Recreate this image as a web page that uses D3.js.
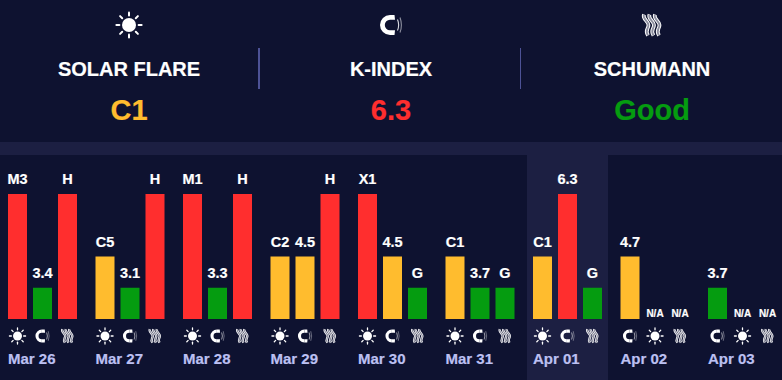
<!DOCTYPE html>
<html><head><meta charset="utf-8">
<script src="https://cdn.jsdelivr.net/npm/d3@7"></script>
<style>
html,body{margin:0;padding:0;background:#0e1230;overflow:hidden}
text{font-family:"Liberation Sans",Arial,sans-serif;font-weight:bold;stroke:currentColor;stroke-width:.2px}
</style></head><body>
<svg id="c" width="782" height="380"></svg>
<script>
const days=["Mar 26","Mar 27","Mar 28","Mar 29","Mar 30","Mar 31","Apr 01","Apr 02","Apr 03"];
const slotTypes=[
 ["sun","mag","wav"],["sun","mag","wav"],["sun","mag","wav"],["sun","mag","wav"],["sun","mag","wav"],["sun","mag","wav"],["sun","mag","wav"],
 ["mag","sun","wav"],["mag","sun","wav"]];
const slotLabels=[
 ["M3","3.4","H"],["C5","3.1","H"],["M1","3.3","H"],["C2","4.5","H"],["X1","4.5","G"],["C1","3.7","G"],["C1","6.3","G"],
 ["4.7","N/A","N/A"],["3.7","N/A","N/A"]];
const slotLevels=[
 [4,1,4],[2,1,4],[4,1,4],[2,2,4],[4,2,1],[2,1,1],[2,4,1],
 [2,0,0],[1,0,0]];
const headerTitles=["SOLAR FLARE","K-INDEX","SCHUMANN"];
const headerValues=["C1","6.3","Good"];
const headerLevels=[2,4,1];
const headerIcons=["sun","mag","wav"];
const highlightDay="Apr 01";
const levelColors={1:"#059c10",2:"#ffbc2e",4:"#ff2e2e"};

const svg=d3.select("#c");
const BG="#0e1230",BAND="#1c1f42";
svg.append("rect").attr("width",782).attr("height",380).attr("fill",BG);
svg.append("rect").attr("x",0).attr("y",142).attr("width",782).attr("height",13).attr("fill",BAND);

const x=d3.scaleBand().domain(days).range([8,8+87.5*days.length]);
const slot=d3.scaleBand().domain([0,1,2]).range([0,69]).paddingInner(0.24).paddingOuter(0);
const y=d3.scaleLinear().domain([0,4]).range([319,194]);

svg.append("rect").attr("x",x(highlightDay)-6).attr("y",155).attr("width",81).attr("height",225).attr("fill",BAND);

function sun(g,s){
  g.append("circle").attr("r",7*s).attr("fill","#fff");
  d3.range(8).forEach(i=>{
    const a=i*Math.PI/4;
    g.append("line").attr("x1",Math.cos(a)*9.6*s).attr("y1",Math.sin(a)*9.6*s)
     .attr("x2",Math.cos(a)*12.6*s).attr("y2",Math.sin(a)*12.6*s)
     .attr("stroke","#fff").attr("stroke-width",2*s).attr("stroke-linecap","round");
  });
}
function mag(g,s){
  const c=g.append("g").attr("transform",`translate(${-1*s},0)`);
  c.append("path").attr("transform","scale(-1,1)")
   .attr("d",d3.arc().innerRadius(5.2*s).outerRadius(10*s).startAngle(0).endAngle(Math.PI)()).attr("fill","#fff");
  c.append("path").attr("d",`M0,${-10*s}H${4.5*s}L${5*s},${-5.2*s}H0Z M0,${5.2*s}H${5*s}L${4.5*s},${10*s}H0Z`).attr("fill","#fff");
  g.append("path").attr("d",`M${6.5*s},${-5.5*s}Q${8.8*s},0 ${6.5*s},${5.5*s}`).attr("fill","none").attr("stroke","#d8d9e0").attr("stroke-width",1.1*s);
  g.append("path").attr("d",`M${9*s},${-7.5*s}Q${11.8*s},0 ${9*s},${7.5*s}`).attr("fill","none").attr("stroke","#8d8f9f").attr("stroke-width",1.1*s);
}
function wav(g,s){
  const d=`M${-2.5*s},${-10.5*s}C${-4.5*s},${-6*s} ${2*s},${-4*s} ${2*s},${0*s}C${2*s},${4*s} ${-2*s},${5*s} ${1.5*s},${10.5*s}`;
  [-5.5,0,5.5].forEach(dx=>{
    g.append("path").attr("transform",`translate(${dx*s},0)`).attr("d",d)
     .attr("fill","none").attr("stroke","#fff").attr("stroke-width",3.8*s);
    g.append("path").attr("transform",`translate(${dx*s},0)`).attr("d",d)
     .attr("fill","none").attr("stroke","#8c8d9e").attr("stroke-width",1.8*s);
  });
}
const icons={sun,mag,wav};

// header
const hx=[129,391,652];
headerTitles.forEach((t,i)=>{
  const g=svg.append("g").attr("transform",`translate(${hx[i]},25)`);
  icons[headerIcons[i]](g,1);
  svg.append("text").attr("x",hx[i]).attr("y",76).attr("text-anchor","middle").attr("font-size",20).attr("fill","#fff").style("color","#fff").text(t);
  svg.append("text").attr("x",hx[i]).attr("y",120).attr("text-anchor","middle").attr("font-size",29).attr("fill",levelColors[headerLevels[i]]).style("color",levelColors[headerLevels[i]]).text(headerValues[i]);
});
svg.append("rect").attr("x",258).attr("y",48).attr("width",2).attr("height",41).attr("fill","#4d5296");
svg.append("rect").attr("x",520).attr("y",48).attr("width",1).attr("height",41).attr("fill","#4d5296");

// days
days.forEach((d,i)=>{
  const g=svg.append("g").attr("transform",`translate(${x(d)},0)`);
  slotLevels[i].forEach((lv,j)=>{
    const cx=slot(j)+slot.bandwidth()/2, lab=slotLabels[i][j];
    if(lv>0){
      g.append("rect").attr("x",slot(j)).attr("y",y(lv)).attr("width",slot.bandwidth()).attr("height",y(0)-y(lv)).attr("fill",levelColors[lv]);
      g.append("text").attr("x",cx).attr("y",y(lv)-10).attr("text-anchor","middle").attr("font-size",14.5).attr("fill","#fff").style("color","#fff").text(lab);
    } else {
      g.append("text").attr("x",cx).attr("y",317).attr("text-anchor","middle").attr("font-size",10).attr("fill","#fff").style("color","#fff").text(lab);
    }
    const ig=g.append("g").attr("transform",`translate(${cx},336)`);
    icons[slotTypes[i][j]](ig,0.64);
  });
  g.append("text").attr("x",0).attr("y",364).attr("font-size",15).attr("fill","#bcc0f2").style("color","#bcc0f2").text(d);
});
</script></body></html>
